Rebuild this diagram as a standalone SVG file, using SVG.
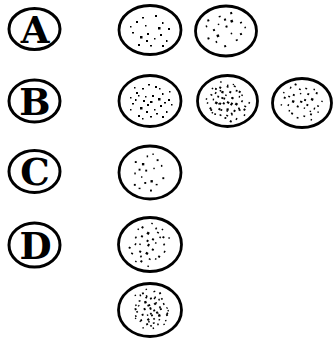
<svg xmlns="http://www.w3.org/2000/svg" width="333" height="339" viewBox="0 0 333 339">
<style>
.lbl{fill:#fff;stroke:#000;stroke-width:3}
.txt{font-family:"DejaVu Serif","Liberation Serif",serif;font-weight:bold;font-size:37px;text-anchor:middle;fill:#000}
.plate{fill:#fff;stroke:#000;stroke-width:2.8}
.d{fill:#000}
</style>
<defs>
<g id="sparse" class="d">
<rect x="-14" y="-9" width="2" height="2"/><rect x="-8" y="-13" width="2" height="1.5"/><rect x="5" y="-15" width="2" height="2"/>
<rect x="12" y="-8" width="1.5" height="2"/><rect x="18" y="-2" width="2" height="2"/><rect x="-18" y="2" width="2" height="1.5"/>
<rect x="-10" y="6" width="2.5" height="2.5"/><rect x="-3" y="3" width="2" height="2"/><rect x="4" y="8" width="1.5" height="1.5"/>
<rect x="10" y="4" width="2" height="2"/><rect x="16" y="10" width="1.5" height="2"/><rect x="-12" y="14" width="2" height="2"/>
<rect x="0" y="15" width="2" height="1.5"/><rect x="8" y="-3" width="2.5" height="2.5"/><rect x="-5" y="-5" width="1.5" height="1.5"/>
<rect x="12" y="15" width="2" height="2"/><rect x="-20" y="-4" width="1.5" height="1.5"/><rect x="-4" y="10" width="2" height="2"/>
</g>
<g id="medium" class="d">
<use href="#sparse"/>
<rect x="-16" y="-14" width="1.5" height="1.5"/><rect x="-2" y="-17" width="2" height="1.5"/><rect x="9" y="-13" width="1.5" height="1.5"/>
<rect x="-20" y="8" width="1.5" height="1.5"/><rect x="-7" y="-1" width="2" height="2"/><rect x="2" y="-6" width="2" height="2"/>
<rect x="6" y="12" width="2" height="1.5"/><rect x="-15" y="-2" width="1.5" height="2"/><rect x="19" y="-10" width="1.5" height="1.5"/>
<rect x="0" y="0" width="2.5" height="2"/><rect x="14" y="1" width="2" height="1.5"/><rect x="-8" y="17" width="1.5" height="1.5"/>
<rect x="-12" y="-6" width="1.5" height="1.5"/><rect x="21" y="3" width="1.5" height="1.5"/>
</g>
<g id="dense" class="d">
<use href="#medium"/>
<use href="#sparse" transform="rotate(70) scale(0.9)"/>
<rect x="-3" y="-10" width="2" height="2"/><rect x="4" y="-1" width="2" height="3"/><rect x="-6" y="5" width="2" height="2"/>
<rect x="10" y="9" width="1.5" height="1.5"/><rect x="-17" y="11" width="1.5" height="1.5"/><rect x="17" y="-5" width="2" height="1.5"/>
</g>
</defs>

<g id="label-A"><ellipse class="lbl" cx="34.5" cy="29" rx="25.5" ry="20.5"/><text class="txt" x="35" y="42.5">A</text></g>
<g id="label-B"><ellipse class="lbl" cx="34.5" cy="101" rx="25.5" ry="21"/><text class="txt" x="35" y="114.5">B</text></g>
<g id="label-C"><ellipse class="lbl" cx="34.5" cy="171.5" rx="25.5" ry="21"/><text class="txt" x="35" y="185">C</text></g>
<g id="label-D"><ellipse class="lbl" cx="34.5" cy="245" rx="25.5" ry="22"/><text class="txt" x="35.5" y="258.5">D</text></g>

<g id="plate-A1"><ellipse class="plate" cx="150" cy="30" rx="31" ry="24.5"/><use href="#sparse" transform="translate(150,30)"/></g>
<g id="plate-A2"><ellipse class="plate" cx="226" cy="31" rx="30.5" ry="25"/><use href="#sparse" transform="translate(226,31) rotate(160)"/></g>

<g id="plate-B1"><ellipse class="plate" cx="150" cy="101" rx="31" ry="25.5"/><use href="#medium" transform="translate(150,101)"/></g>
<g id="plate-B2"><ellipse class="plate" cx="227.5" cy="101" rx="30" ry="25.5"/><use href="#dense" transform="translate(227.5,101) rotate(30)"/></g>
<g id="plate-B3"><ellipse class="plate" cx="302" cy="103" rx="29.5" ry="24.5"/><use href="#medium" transform="translate(302,103) rotate(200) scale(0.95)"/></g>

<g id="plate-C"><ellipse class="plate" cx="150" cy="172.5" rx="31" ry="26.5"/><use href="#sparse" transform="translate(150,172.5) rotate(90) scale(0.95)"/></g>

<g id="plate-D1"><ellipse class="plate" cx="150" cy="244.5" rx="31.5" ry="27"/><use href="#medium" transform="translate(150,244.5) rotate(120)"/></g>
<g id="plate-D2"><ellipse class="plate" cx="150" cy="310" rx="31.5" ry="26.5"/><use href="#dense" transform="translate(150,310) rotate(250) scale(0.95)"/></g>
</svg>
